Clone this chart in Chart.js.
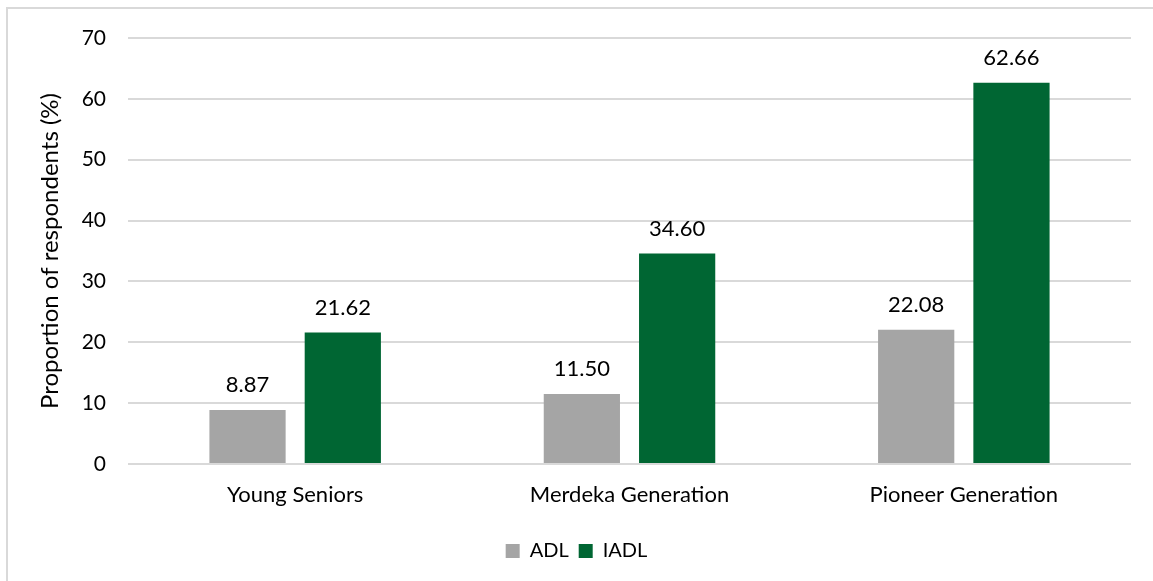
<!DOCTYPE html>
<html>
<head>
<meta charset="utf-8">
<script src="https://cdn.jsdelivr.net/npm/chart.js@4/dist/chart.umd.min.js"></script>
<style>
  html, body { margin: 0; padding: 0; background: #fff; overflow: hidden; }
  #wrap { position: relative; width: 1153px; height: 581px; }
  #frame { position: absolute; left: 6px; top: 7px; width: 1200px; height: 650px; border: 2px solid #d9d9d9; }
  #cv { position: absolute; left: 0; top: 0; }
</style>
</head>
<body>
<div id="wrap">
  <div id="frame"></div>
  <canvas id="cv" width="1153" height="581"></canvas>
</div>
<script>
const categories = ['Young Seniors', 'Merdeka Generation', 'Pioneer Generation'];
const adl = [8.87, 11.50, 22.08];
const iadl = [21.62, 34.60, 62.66];
const yTicks = [0, 10, 20, 30, 40, 50, 60, 70];

const FONT = 'Lato, "Open Sans", sans-serif';
const TXT = '#000';

// value labels above each bar
const valueLabels = {
  id: 'valueLabels',
  afterDatasetsDraw(chart) {
    const ctx = chart.ctx;
    ctx.save();
    ctx.font = '22px ' + FONT;
    ctx.fillStyle = TXT;
    ctx.textAlign = 'center';
    ctx.textBaseline = 'bottom';
    chart.data.datasets.forEach((ds, i) => {
      chart.getDatasetMeta(i).data.forEach((bar, j) => {
        ctx.fillText(ds.data[j].toFixed(2), bar.x, bar.y - 14);
      });
    });
    ctx.restore();
  }
};

new Chart(document.getElementById('cv'), {
  type: 'bar',
  data: {
    labels: categories,
    datasets: [
      { label: 'ADL', data: adl, backgroundColor: '#a5a5a5' },
      { label: 'IADL', data: iadl, backgroundColor: '#006633' }
    ]
  },
  options: {
    responsive: false,
    animation: false,
    devicePixelRatio: 1,
    datasets: { bar: { categoryPercentage: 0.57, barPercentage: 0.8 } },
    layout: { padding: { top: 38, left: 22, right: 22, bottom: 10 } },
    plugins: {
      legend: {
        position: 'bottom',
        labels: { font: { family: FONT, size: 20 }, color: TXT, boxWidth: 14, boxHeight: 14, padding: 10 }
      },
      tooltip: { enabled: false }
    },
    scales: {
      x: {
        grid: { display: false },
        border: { display: false },
        ticks: { font: { family: FONT, size: 22 }, color: TXT, padding: 10, maxRotation: 0 },
        afterFit: s => { s.height = 67; }
      },
      y: {
        min: 0, max: 70,
        afterBuildTicks: s => { s.ticks = yTicks.map(v => ({ value: v })); },
        grid: { color: '#d9d9d9', lineWidth: 2, drawTicks: false },
        border: { display: false },
        ticks: { font: { family: FONT, size: 21 }, color: TXT, padding: 22 },
        title: { display: true, text: 'Proportion of respondents (%)', font: { family: FONT, size: 24 }, color: TXT, padding: { top: 14, bottom: 0 } },
        afterFit: s => { s.width = 106; }
      }
    }
  },
  plugins: [valueLabels]
});
</script>
</body>
</html>
